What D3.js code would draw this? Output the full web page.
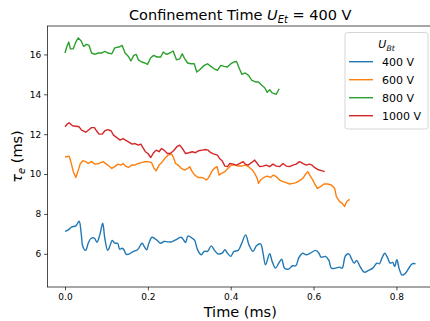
<!DOCTYPE html>
<html>
<head>
<meta charset="utf-8">
<script src="https://cdn.jsdelivr.net/npm/d3@7"></script>
<style>
  body { margin: 0; background: #fff; }
  text { font-family: "DejaVu Sans", sans-serif; }
</style>
</head>
<body>
<script>
// values, [time (ms), tau_e (ms)]
const s400 = [[0,7.12],[0.008,7.2],[0.016,7.35],[0.026,7.4],[0.034,7.63],[0.039,7.03],[0.043,6.37],[0.05,6.17],[0.056,6.53],[0.063,6.78],[0.071,6.78],[0.077,6.58],[0.084,6.95],[0.091,7.53],[0.096,6.78],[0.103,6.17],[0.108,6.37],[0.114,6.67],[0.12,6.53],[0.127,6.53],[0.132,6.23],[0.138,6.28],[0.143,6.17],[0.148,5.97],[0.156,6.0],[0.165,6.12],[0.175,6.2],[0.186,6.53],[0.191,6.37],[0.197,6.2],[0.202,6.5],[0.21,6.83],[0.221,6.7],[0.231,6.53],[0.239,6.62],[0.249,6.6],[0.257,6.6],[0.267,6.7],[0.28,6.83],[0.286,6.7],[0.291,6.57],[0.297,6.9],[0.307,6.78],[0.313,6.67],[0.32,6.2],[0.329,5.95],[0.336,6.12],[0.344,6.12],[0.353,6.4],[0.361,6.17],[0.369,6.0],[0.379,6.03],[0.386,6.2],[0.392,6.03],[0.4,5.87],[0.408,6.12],[0.418,6.17],[0.426,6.5],[0.436,6.95],[0.444,6.45],[0.454,6.12],[0.462,6.4],[0.472,6.5],[0.478,6.03],[0.484,5.45],[0.494,6.0],[0.5,5.62],[0.508,5.28],[0.516,5.53],[0.523,5.73],[0.53,5.28],[0.54,5.23],[0.549,5.4],[0.557,5.4],[0.565,5.83],[0.574,6.03],[0.582,5.95],[0.592,6.03],[0.605,6.17],[0.613,6.03],[0.618,5.83],[0.629,5.87],[0.637,5.67],[0.643,5.28],[0.653,5.28],[0.663,5.33],[0.669,5.28],[0.677,5.9],[0.685,6.0],[0.692,5.73],[0.698,5.53],[0.704,5.67],[0.712,5.37],[0.722,5.08],[0.733,5.17],[0.743,5.28],[0.753,5.53],[0.759,5.5],[0.765,5.78],[0.772,6.03],[0.778,5.83],[0.785,5.53],[0.791,5.57],[0.796,5.37],[0.801,5.7],[0.807,5.23],[0.814,4.93],[0.822,5.03],[0.83,5.28],[0.838,5.5],[0.846,5.5]];

const s600 = [[0,10.87],[0.005,10.87],[0.01,10.9],[0.014,10.62],[0.02,10.12],[0.026,9.83],[0.031,10.12],[0.037,10.53],[0.043,10.67],[0.05,10.62],[0.056,10.53],[0.064,10.62],[0.072,10.5],[0.082,10.53],[0.092,10.62],[0.103,10.45],[0.113,10.28],[0.12,10.37],[0.128,10.5],[0.135,10.45],[0.14,10.53],[0.146,10.4],[0.153,10.33],[0.161,10.45],[0.169,10.45],[0.177,10.53],[0.185,10.57],[0.193,10.62],[0.2,10.62],[0.209,10.57],[0.215,10.28],[0.22,10.17],[0.227,10.45],[0.233,10.57],[0.241,10.78],[0.249,10.95],[0.257,11.0],[0.261,10.87],[0.267,10.53],[0.273,10.45],[0.281,10.28],[0.289,10.2],[0.296,10.28],[0.301,10.37],[0.307,10.12],[0.313,9.95],[0.321,9.83],[0.329,9.83],[0.336,9.78],[0.341,9.7],[0.347,9.83],[0.354,10.12],[0.36,10.28],[0.367,10.37],[0.372,9.95],[0.378,10.03],[0.386,10.12],[0.393,10.28],[0.402,10.45],[0.41,10.45],[0.418,10.4],[0.426,10.4],[0.435,10.45],[0.443,10.37],[0.451,10.23],[0.458,10.03],[0.464,9.78],[0.467,9.53],[0.472,9.7],[0.48,9.83],[0.488,9.9],[0.496,9.83],[0.503,9.95],[0.51,9.87],[0.518,9.7],[0.526,9.62],[0.534,9.57],[0.542,9.5],[0.55,9.53],[0.558,9.57],[0.566,9.67],[0.574,9.78],[0.582,10.03],[0.586,10.12],[0.593,9.87],[0.599,9.67],[0.602,9.53],[0.609,9.28],[0.617,9.37],[0.625,9.5],[0.634,9.5],[0.643,9.45],[0.651,9.28],[0.655,8.87],[0.663,8.62],[0.669,8.53],[0.675,8.37],[0.68,8.62],[0.687,8.73]];

const s800 = [[0,16.07],[0.004,16.37],[0.009,16.62],[0.013,16.28],[0.02,16.28],[0.026,16.62],[0.032,16.83],[0.039,16.67],[0.045,16.4],[0.052,16.5],[0.058,16.45],[0.064,16.07],[0.072,16.0],[0.08,16.07],[0.088,16.07],[0.096,16.15],[0.104,16.07],[0.113,16.03],[0.12,16.33],[0.13,16.37],[0.138,16.45],[0.145,16.07],[0.153,15.9],[0.159,15.67],[0.166,15.95],[0.172,16.0],[0.177,15.73],[0.185,15.62],[0.193,15.57],[0.199,15.5],[0.207,15.83],[0.214,15.95],[0.222,15.87],[0.231,15.87],[0.237,16.12],[0.245,16.0],[0.253,16.07],[0.261,16.17],[0.269,15.73],[0.277,15.78],[0.283,16.03],[0.289,15.78],[0.296,15.57],[0.304,15.53],[0.312,15.53],[0.318,15.12],[0.325,15.23],[0.336,15.45],[0.344,15.53],[0.352,15.4],[0.36,15.28],[0.368,15.2],[0.376,15.45],[0.384,15.4],[0.392,15.37],[0.4,15.53],[0.408,15.62],[0.414,15.65],[0.421,15.28],[0.427,15.0],[0.435,15.07],[0.443,14.95],[0.451,14.7],[0.46,14.62],[0.467,14.62],[0.475,14.45],[0.482,14.33],[0.488,14.1],[0.494,14.23],[0.5,14.07],[0.51,14.0],[0.517,14.28]];

const s1000 = [[0,12.37],[0.005,12.5],[0.01,12.57],[0.018,12.42],[0.026,12.4],[0.034,12.37],[0.04,12.2],[0.05,12.1],[0.056,12.2],[0.064,12.33],[0.071,12.33],[0.076,12.17],[0.082,12.0],[0.09,12.0],[0.096,12.17],[0.103,12.23],[0.111,12.17],[0.117,11.95],[0.125,11.83],[0.133,11.7],[0.14,11.78],[0.146,11.7],[0.154,11.6],[0.162,11.5],[0.169,11.53],[0.177,11.45],[0.183,11.5],[0.188,11.33],[0.194,11.12],[0.2,11.03],[0.207,10.83],[0.214,11.07],[0.22,11.2],[0.227,11.12],[0.233,11.28],[0.239,11.2],[0.247,11.03],[0.254,11.03],[0.262,11.17],[0.27,11.37],[0.277,11.45],[0.285,11.23],[0.291,11.03],[0.299,11.07],[0.307,11.12],[0.315,11.07],[0.323,11.17],[0.331,11.2],[0.339,11.23],[0.345,11.2],[0.352,11.07],[0.36,11.0],[0.368,10.95],[0.373,10.78],[0.379,10.67],[0.386,10.4],[0.392,10.37],[0.398,10.53],[0.406,10.5],[0.414,10.45],[0.422,10.53],[0.43,10.62],[0.435,10.5],[0.442,10.45],[0.45,10.57],[0.458,10.7],[0.464,10.53],[0.47,10.37],[0.478,10.4],[0.486,10.45],[0.494,10.37],[0.502,10.5],[0.51,10.4],[0.518,10.37],[0.526,10.53],[0.534,10.4],[0.542,10.37],[0.55,10.45],[0.558,10.5],[0.566,10.62],[0.574,10.53],[0.582,10.45],[0.59,10.5],[0.596,10.45],[0.602,10.33],[0.61,10.23],[0.619,10.17],[0.627,10.12]];

const seriesLabels = ["400 V", "600 V", "800 V", "1000 V"];
const seriesData = [s400, s600, s800, s1000];
const colors = ["#1f77b4", "#ff7f0e", "#2ca02c", "#d62728"];
const xTicks = [0.0, 0.2, 0.4, 0.6, 0.8];
const yTicks = [6, 8, 10, 12, 14, 16];

const width = 430, height = 321;
const margin = {top: 26, right: -3, bottom: 34, left: 47.5};

const svg = d3.select("body").append("svg")
    .attr("width", width)
    .attr("height", height);

// matplotlib style 5% padding around the data
const all = seriesData.flat();
const pad = (ext) => {
  const m = (ext[1] - ext[0]) * 0.05;
  return [ext[0] - m, ext[1] + m];
};

const x = d3.scaleLinear()
    .domain(pad(d3.extent(all, d => d[0])))
    .range([margin.left, width - margin.right]);

const y = d3.scaleLinear()
    .domain(pad(d3.extent(all, d => d[1])))
    .range([height - margin.bottom, margin.top]);

const line = d3.line()
    .x(d => x(d[0]))
    .y(d => y(d[1]));

const plot = svg.append("g");

seriesData.forEach((s, i) => {
  plot.append("path")
      .datum(s)
      .attr("fill", "none")
      .attr("stroke", colors[i])
      .attr("stroke-width", 1.4)
      .attr("stroke-linejoin", "round")
      .attr("d", line.curve(i === 0 ? d3.curveCatmullRom : d3.curveLinear));
});

// axes
const xAxis = svg.append("g")
    .attr("transform", `translate(0,${height - margin.bottom})`)
    .call(d3.axisBottom(x).tickValues(xTicks).tickFormat(d3.format(".1f")).tickSize(3.4).tickPadding(3));

const yAxis = svg.append("g")
    .attr("transform", `translate(${margin.left},0)`)
    .call(d3.axisLeft(y).tickValues(yTicks).tickSize(3.4).tickPadding(3));

[xAxis, yAxis].forEach(a => {
  a.select(".domain").remove();
  a.selectAll(".tick line").attr("stroke", "#000").attr("stroke-width", 0.7);
  a.selectAll(".tick text")
      .attr("fill", "#000")
      .style("font-size", "9px")
      .style("font-family", "DejaVu Sans, sans-serif");
});

// spines
svg.append("rect")
    .attr("x", margin.left)
    .attr("y", margin.top)
    .attr("width", width - margin.right - margin.left)
    .attr("height", height - margin.bottom - margin.top)
    .attr("fill", "none")
    .attr("stroke", "#000")
    .attr("stroke-width", 0.7);

// title
const title = svg.append("text")
    .attr("x", (margin.left + width - margin.right) / 2)
    .attr("y", 19.5)
    .attr("text-anchor", "middle")
    .style("font-size", "14.5px");
title.append("tspan").text("Confinement Time ");
title.append("tspan").style("font-style", "italic").text("U");
title.append("tspan").style("font-style", "italic").style("font-size", "10px").attr("dy", 3).text("Et");
title.append("tspan").attr("dy", -3).text(" = 400 V");

// axis labels
svg.append("text")
    .attr("x", (margin.left + width - margin.right) / 2)
    .attr("y", 317)
    .attr("text-anchor", "middle")
    .style("font-size", "14.5px")
    .text("Time (ms)");

const yl = svg.append("text")
    .attr("transform", `translate(22,${(margin.top + height - margin.bottom) / 2}) rotate(-90)`)
    .attr("text-anchor", "middle")
    .style("font-size", "14.5px");
yl.append("tspan").style("font-style", "italic").text("τ");
yl.append("tspan").style("font-style", "italic").style("font-size", "10px").attr("dy", 3).text("e");
yl.append("tspan").attr("dy", -3).text(" (ms)");

// legend
const lg = svg.append("g");
lg.append("rect")
    .attr("x", 345)
    .attr("y", 32.5)
    .attr("width", 83)
    .attr("height", 96.5)
    .attr("rx", 2.5)
    .attr("fill", "#fff")
    .attr("fill-opacity", 0.8)
    .attr("stroke", "#ccc")
    .attr("stroke-width", 0.8);

const lt = lg.append("text")
    .attr("x", 386.5)
    .attr("y", 48)
    .attr("text-anchor", "middle")
    .style("font-size", "11px");
lt.append("tspan").style("font-style", "italic").text("U");
lt.append("tspan").style("font-style", "italic").style("font-size", "7.7px").attr("dy", 2.5).text("Bt");

seriesLabels.forEach((name, i) => {
  const yy = 61.7 + i * 18;
  lg.append("line")
      .attr("x1", 349).attr("x2", 373)
      .attr("y1", yy).attr("y2", yy)
      .attr("stroke", colors[i])
      .attr("stroke-width", 1.4);
  lg.append("text")
      .attr("x", 382)
      .attr("y", yy + 4)
      .style("font-size", "11px")
      .text(name);
});
</script>
</body>
</html>
